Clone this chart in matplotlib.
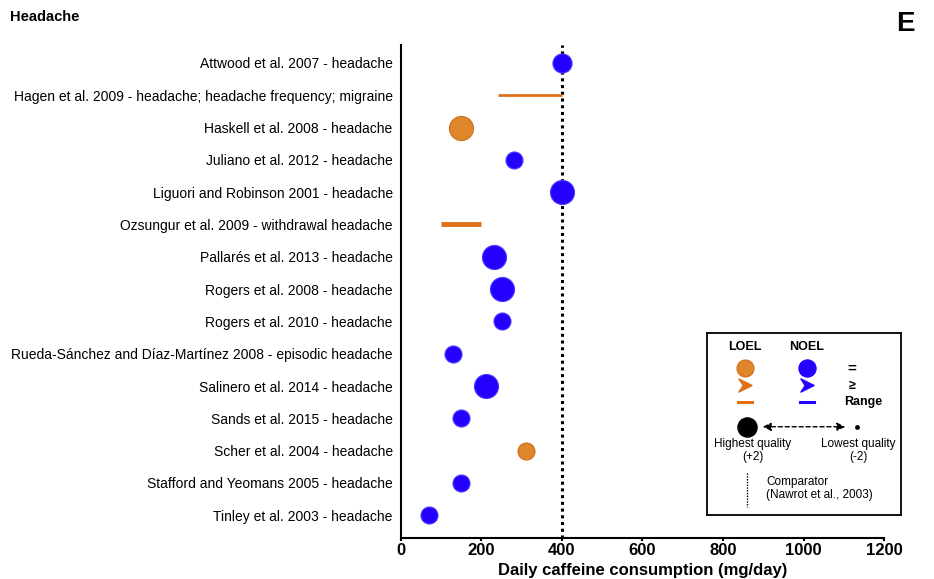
import matplotlib.pyplot as plt
from matplotlib.path import Path

plt.rcParams['font.family'] = ['Liberation Sans', 'DejaVu Sans']

# studies listed top to bottom
studies = [
    'Attwood et al. 2007 - headache',
    'Hagen et al. 2009 - headache; headache frequency; migraine',
    'Haskell et al. 2008 - headache',
    'Juliano et al. 2012 - headache',
    'Liguori and Robinson 2001 - headache',
    'Ozsungur et al. 2009 - withdrawal headache',
    'Pallarés et al. 2013 - headache',
    'Rogers et al. 2008 - headache',
    'Rogers et al. 2010 - headache',
    'Rueda-Sánchez and Díaz-Martínez 2008 - episodic headache',
    'Salinero et al. 2014 - headache',
    'Sands et al. 2015 - headache',
    'Scher et al. 2004 - headache',
    'Stafford and Yeomans 2005 - headache',
    'Tinley et al. 2003 - headache',
]

# point estimates (mg/day); None where the study reports a range
dose = [400, None, 150, 280, 400, None, 230, 250, 250, 130, 210, 150, 310, 150, 70]
effect = ['NOEL', None, 'LOEL', 'NOEL', 'NOEL', None, 'NOEL', 'NOEL', 'NOEL',
          'NOEL', 'NOEL', 'NOEL', 'LOEL', 'NOEL', 'NOEL']
quality = [1, None, 2, 0, 2, None, 2, 2, 0, 0, 2, 0, 0, 0, 0]

# range studies
range_rows = [1, 5]
range_lo = [240, 100]
range_hi = [400, 200]
range_width = [2.0, 3.5]

comparator = 400

blue = '#2400FF'
orange = '#E0862A'
orange_edge = '#CF6E1C'
range_orange = '#E07018'
colors = {'NOEL': blue, 'LOEL': orange}
edges = {'NOEL': '#4A3CFF', 'LOEL': orange_edge}
sizes = {0: 150, 1: 190, 2: 300}

# arrowhead marker used for the ">=" entries in the key
chevron = Path([(-1, 1), (1, 0), (-1, -1), (-0.35, 0), (-1, 1)],
               [Path.MOVETO, Path.LINETO, Path.LINETO, Path.LINETO, Path.CLOSEPOLY])

fig = plt.figure(figsize=(9.34, 5.79), dpi=100)
ax = fig.add_axes([0.4293, 0.071, 0.5172, 0.851])

ax.axvline(comparator, color='black', linestyle=(0, (1, 1.2)), linewidth=2.2, zorder=1)

for i, (x, e, q) in enumerate(zip(dose, effect, quality)):
    if x is None:
        continue
    ax.scatter(x, i, s=sizes[q], color=colors[e], edgecolors=edges[e],
               linewidths=0.8, zorder=3)

for r, lo, hi, w in zip(range_rows, range_lo, range_hi, range_width):
    ax.plot([lo, hi], [r, r], color=range_orange, linewidth=w,
            solid_capstyle='butt', zorder=2)

ax.set_xlim(0, 1200)
ax.set_ylim(len(studies) - 0.3, -0.55)
ax.set_yticks(range(len(studies)))
ax.set_yticklabels(studies, fontsize=10)
ax.tick_params(axis='y', length=0, pad=6)
ax.set_xticks([0, 200, 400, 600, 800, 1000, 1200])
ax.tick_params(axis='x', labelsize=12, width=1.5, length=2.5, pad=1)
for lab in ax.get_xticklabels():
    lab.set_fontweight('bold')
ax.set_xlabel('Daily caffeine consumption (mg/day)', fontsize=12,
              fontweight='bold', labelpad=4)
for side in ['top', 'right']:
    ax.spines[side].set_visible(False)
ax.spines['left'].set_linewidth(1.5)
ax.spines['bottom'].set_linewidth(1.5)

fig.text(0.011, 0.97, 'Headache', fontsize=10.5, fontweight='bold', va='center')
fig.text(0.969, 0.958, 'E', fontsize=20, fontweight='bold', va='center', ha='center')

# key box, drawn in its own axes
lg = fig.add_axes([0.757, 0.111, 0.2077, 0.3143])
lg.set_xlim(707, 901)
lg.set_ylim(515, 333)
lg.set_xticks([])
lg.set_yticks([])
for s in lg.spines.values():
    s.set_linewidth(1.3)

lg.text(745, 347, 'LOEL', ha='center', va='center', fontsize=9, fontweight='bold')
lg.text(807, 347, 'NOEL', ha='center', va='center', fontsize=9, fontweight='bold')
lg.scatter([745], [368], s=150, color=orange, edgecolors=orange_edge, linewidths=0.8)
lg.scatter([807], [368], s=150, color=blue)
lg.text(852, 369, '=', ha='center', va='center', fontsize=11, fontweight='bold')
lg.scatter([745], [385], marker=chevron, s=90, color=range_orange)
lg.scatter([807], [385], marker=chevron, s=90, color=blue)
lg.text(852, 386, '≥', ha='center', va='center', fontsize=9, fontweight='bold')
lg.plot([738, 752], [402, 402], color=range_orange, linewidth=2.2)
lg.plot([800, 814], [402, 402], color=blue, linewidth=2.2)
lg.text(863, 402, 'Range', ha='center', va='center', fontsize=9, fontweight='bold')

lg.scatter([747], [427], s=190, color='black')
lg.scatter([857], [427], s=6, color='black')
lg.annotate('', xy=(848, 427), xytext=(760, 427),
            arrowprops=dict(arrowstyle='<|-|>', linestyle=(0, (3, 2)),
                            color='black', lw=1.0, mutation_scale=12))
lg.text(753, 451, 'Highest quality\n(+2)', ha='center', va='center',
        fontsize=8.5, linespacing=1.1)
lg.text(858, 451, 'Lowest quality\n(-2)', ha='center', va='center',
        fontsize=8.5, linespacing=1.1)
lg.plot([747, 747], [473, 507], color='black', linestyle=(0, (1, 1)), linewidth=1.0)
lg.text(766, 489, 'Comparator\n(Nawrot et al., 2003)', ha='left', va='center',
        fontsize=8.5, linespacing=1.1)

fig.savefig('out.png', dpi=100)
